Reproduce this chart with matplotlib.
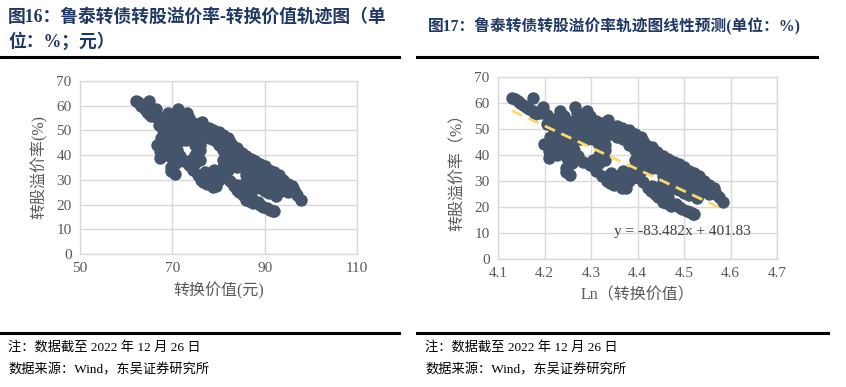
import numpy as np
import matplotlib.pyplot as plt

plt.rcParams["font.family"] = ["Liberation Serif", "Noto Sans CJK SC"]

# conversion value (yuan) and conversion premium rate (%)
conv_value = [
    62.2, 62.6, 63.0, 63.3, 63.7, 64.1, 64.5, 65.0, 65.4, 65.0, 66.4, 66.0, 67.0,
    68.0, 69.0, 69.5, 70.0, 71.2, 71.5, 72.0, 73.1, 73.5, 74.0, 68.0, 69.0, 70.0,
    71.0, 72.0, 73.0, 74.0, 75.0, 67.5, 68.5, 70.0, 71.0, 72.0, 73.0, 75.0, 76.0,
    66.6, 67.3, 67.3, 68.5, 69.5, 70.5, 69.8, 69.8, 70.5, 70.8,
    67.0, 68.0, 69.0, 69.0, 70.0, 70.0, 71.0, 71.0, 72.0, 72.0, 73.0, 73.0, 74.0,
    74.0, 75.0, 76.0, 76.0, 75.0, 68.0, 70.0, 71.0,
    74.5, 75.5, 76.0, 76.5, 77.0, 78.0, 78.8, 79.5, 80.0, 81.0, 81.5, 82.4, 82.0,
    83.0, 84.0, 84.6, 85.5, 86.0, 87.0, 87.5, 88.5, 89.0, 90.0, 90.4, 91.0, 91.5,
    92.5, 93.0, 94.0, 94.5, 95.0, 96.1, 96.5, 97.0, 97.9,
    77.0, 78.0, 79.0, 80.0, 81.0, 82.0, 83.0, 84.0, 85.0, 86.0, 87.0, 88.0, 89.0,
    90.0, 91.0, 92.0, 93.0, 94.0, 95.0, 96.0,
    80.0, 81.0, 82.0, 83.0, 84.0, 85.0, 86.0, 87.0, 88.0, 89.0, 90.0, 91.0, 92.0,
    93.0, 94.0, 95.0,
    86.0, 87.0, 88.0, 89.0, 90.0, 91.0, 92.0, 93.0, 88.0, 89.0,
    76.0, 81.0, 82.0, 86.0, 87.0, 88.0,
    89.0, 90.0, 91.0, 92.0, 92.5,
    74.0, 75.0, 75.0, 76.0, 77.0, 78.0, 79.0, 80.0, 81.0, 79.0, 81.0,
    82.0, 83.0, 84.0,
    71.6, 72.5, 73.5, 74.5, 75.5, 76.2, 76.7, 77.5, 78.8, 79.5, 80.0, 81.0, 81.7,
    82.5, 83.3, 83.9, 84.5, 85.2, 86.0, 86.5, 87.5, 88.5, 89.0, 89.7, 90.5, 91.2,
    91.8, 92.0,
    84.0, 85.0, 86.0, 87.0, 86.0, 87.0,
]
premium = [
    61.8, 61.5, 60.8, 60.0, 59.3, 58.5, 57.6, 56.8, 55.8, 61.8, 58.5, 56.0, 55.5,
    54.0, 57.0, 55.0, 53.0, 58.6, 56.0, 54.0, 57.0, 55.0, 52.0, 50.0, 48.0, 50.0,
    51.0, 49.0, 50.0, 48.0, 50.0, 47.0, 45.0, 46.0, 45.5, 46.0, 46.0, 46.0, 44.0,
    44.2, 41.5, 38.8, 40.0, 42.0, 41.5, 35.0, 33.4, 32.3, 37.0,
    52.0, 48.0, 52.0, 44.0, 48.0, 43.0, 48.0, 53.0, 51.0, 47.0, 52.0, 48.0, 50.0,
    46.0, 48.0, 47.0, 49.0, 44.0, 43.0, 39.0, 42.0,
    53.0, 52.5, 51.0, 53.5, 50.0, 51.0, 50.3, 48.0, 49.5, 48.2, 46.0, 45.5, 43.0,
    42.0, 40.5, 38.8, 38.0, 37.0, 36.0, 36.8, 35.5, 34.0, 34.0, 33.0, 32.5, 31.0,
    32.0, 30.0, 29.0, 28.0, 27.0, 26.5, 25.0, 24.0, 21.8,
    48.0, 47.0, 46.0, 46.5, 45.0, 47.0, 44.0, 43.0, 41.0, 39.5, 38.5, 37.5, 36.5,
    35.5, 34.0, 33.0, 32.0, 30.0, 28.5, 27.5,
    44.0, 42.0, 40.0, 39.0, 37.0, 35.0, 34.0, 33.0, 32.0, 31.0, 30.0, 29.0, 28.0,
    27.0, 26.0, 25.0,
    32.0, 31.0, 30.0, 29.0, 28.0, 27.0, 26.0, 25.0, 34.0, 33.0,
    42.0, 35.0, 34.0, 29.5, 28.5, 27.5,
    26.5, 25.5, 24.8, 24.5, 23.5,
    38.0, 37.0, 40.0, 38.0, 33.0, 32.0, 31.0, 33.0, 33.5, 34.0, 38.0,
    37.0, 36.0, 35.0,
    39.5, 37.5, 36.0, 34.0, 32.0, 30.0, 29.3, 28.5, 27.3, 27.5, 30.0, 31.5, 31.0,
    29.5, 27.5, 26.0, 25.0, 24.0, 22.0, 21.5, 20.5, 21.0, 20.0, 19.2, 18.5, 18.0,
    17.2, 17.5,
    28.0, 27.0, 25.0, 24.0, 26.5, 26.0,
]

slope = -83.482
intercept = 401.83

conv_value = np.array(conv_value)
premium = np.array(premium)
ln_value = np.log(conv_value)

dot_color = "#44546A"
tick_color = "#595959"
grid_color = "#D9D9D9"

fig = plt.figure(figsize=(8.46, 3.87), dpi=100)

def style_axes(ax):
    ax.grid(True, color=grid_color, linewidth=1.0)
    ax.set_axisbelow(True)
    for s in ax.spines.values():
        s.set_color(grid_color)
        s.set_linewidth(1.0)
    ax.tick_params(length=0, labelsize=11, labelcolor=tick_color, pad=6)

# left chart
ax1 = fig.add_axes([0.0946, 0.3437, 0.3274, 0.447])
ax1.scatter(conv_value, premium, s=80, color=dot_color, linewidths=0, zorder=3)
ax1.set_xlim(50, 110)
ax1.set_ylim(0, 70)
ax1.set_xticks([50, 70, 90, 110])
ax1.set_yticks(np.arange(0, 71, 10))
style_axes(ax1)
ax1.set_xlabel("转换价值(元)", fontsize=11.5, color=tick_color, labelpad=5)
ax1.set_ylabel("转股溢价率(%)", fontsize=11.5, color=tick_color, labelpad=6)

# right chart
ax2 = fig.add_axes([0.5887, 0.3307, 0.3298, 0.4703])
ax2.scatter(ln_value, premium, s=80, color=dot_color, linewidths=0, zorder=3)
fit_x = np.array([ln_value.min(), ln_value.max()])
ax2.plot(fit_x, slope * fit_x + intercept, color="#FFD966", linewidth=2.0,
         linestyle=(0, (4, 2.5)), zorder=4)
ax2.set_xlim(4.1, 4.7)
ax2.set_ylim(0, 70)
ax2.set_xticks(np.arange(4.1, 4.71, 0.1))
ax2.set_xticklabels(["4.1", "4.2", "4.3", "4.4", "4.5", "4.6", "4.7"])
ax2.set_yticks(np.arange(0, 71, 10))
style_axes(ax2)
ax2.set_xlabel("Ln（转换价值）", fontsize=11.5, color=tick_color, labelpad=5)
ax2.set_ylabel("转股溢价率（%）", fontsize=11.5, color=tick_color, labelpad=6)
ax2.text(4.35, 10.5, "y = -83.482x + 401.83", fontsize=11, color="#404040",
         va="center", ha="left")

# titles
title_color = "#1F3864"
fig.text(8 / 846, 1 - 17 / 387, "图16：鲁泰转债转股溢价率-转换价值轨迹图（单",
         fontsize=12.8, fontweight="bold", color=title_color, va="center")
fig.text(8 / 846, 1 - 42 / 387, "位：%；元）",
         fontsize=12.8, fontweight="bold", color=title_color, va="center")
fig.text(428 / 846, 1 - 27 / 387, "图17：鲁泰转债转股溢价率轨迹图线性预测(单位：%)",
         fontsize=11.3, fontweight="bold", color=title_color, va="center")

# rules
for x0, x1, y in [(0, 399, 57), (417, 817, 57), (0, 399, 333), (417, 828, 333)]:
    fig.add_artist(plt.Line2D([x0 / 846, x1 / 846], [1 - y / 387, 1 - y / 387],
                              color="black", linewidth=2.2))

# notes
for x in [8, 425]:
    fig.text(x / 846, 1 - 347 / 387, "注：数据截至 2022 年 12 月 26 日",
             fontsize=9.5, color="black", va="center")
    fig.text(x / 846, 1 - 370 / 387, "数据来源：Wind，东吴证券研究所",
             fontsize=9.5, color="black", va="center")

fig.savefig("out.png", dpi=100)
